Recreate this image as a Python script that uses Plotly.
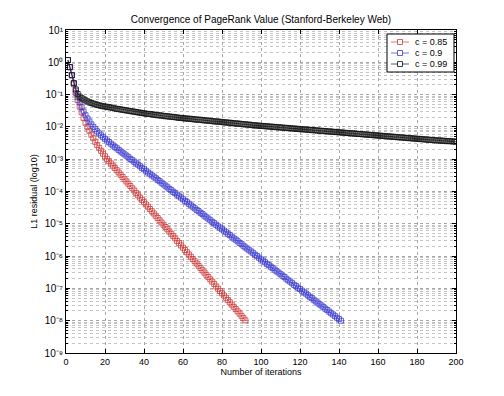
import plotly.graph_objects as go

# L1 residual values, stored as log10 (as on the axis label), one per iteration
red_log = [0.07, -0.15, -0.40, -0.68, -0.95, -1.17, -1.37, -1.55, -1.72, -1.87,
           -2.00, -2.12, -2.24, -2.35, -2.46, -2.56, -2.65, -2.74, -2.83, -2.91,
           -2.99, -3.06, -3.13, -3.20, -3.27, -3.34, -3.41, -3.48, -3.55, -3.62,
           -3.69, -3.76, -3.83, -3.90, -3.97, -4.05, -4.12, -4.19, -4.26, -4.33,
           -4.40, -4.47, -4.54, -4.61, -4.68, -4.75, -4.82, -4.89, -4.96, -5.03,
           -5.10, -5.17, -5.24, -5.31, -5.38, -5.45, -5.53, -5.60, -5.67, -5.74,
           -5.81, -5.88, -5.95, -6.02, -6.09, -6.16, -6.23, -6.30, -6.37, -6.44,
           -6.51, -6.58, -6.65, -6.72, -6.79, -6.86, -6.94, -7.01, -7.08, -7.15,
           -7.22, -7.29, -7.36, -7.43, -7.50, -7.57, -7.64, -7.71, -7.78, -7.85,
           -7.92, -7.99]

blue_log = [0.07, -0.15, -0.40, -0.65, -0.88, -1.07, -1.24, -1.39, -1.52, -1.64,
            -1.74, -1.83, -1.92, -2.00, -2.07, -2.14, -2.20, -2.26, -2.32, -2.37,
            -2.42, -2.47, -2.52, -2.57, -2.62, -2.66, -2.71, -2.76, -2.80, -2.85,
            -2.89, -2.94, -2.99, -3.03, -3.08, -3.13, -3.17, -3.22, -3.27, -3.31,
            -3.36, -3.41, -3.45, -3.50, -3.54, -3.59, -3.64, -3.68, -3.73, -3.78,
            -3.82, -3.87, -3.92, -3.96, -4.01, -4.05, -4.10, -4.15, -4.19, -4.24,
            -4.29, -4.33, -4.38, -4.43, -4.47, -4.52, -4.57, -4.61, -4.66, -4.70,
            -4.75, -4.80, -4.84, -4.89, -4.94, -4.98, -5.03, -5.08, -5.12, -5.17,
            -5.21, -5.26, -5.31, -5.35, -5.40, -5.45, -5.49, -5.54, -5.59, -5.63,
            -5.68, -5.73, -5.77, -5.82, -5.86, -5.91, -5.96, -6.00, -6.05, -6.10,
            -6.14, -6.19, -6.24, -6.28, -6.33, -6.37, -6.42, -6.47, -6.51, -6.56,
            -6.61, -6.65, -6.70, -6.75, -6.79, -6.84, -6.89, -6.93, -6.98, -7.02,
            -7.07, -7.12, -7.16, -7.21, -7.26, -7.30, -7.35, -7.40, -7.44, -7.49,
            -7.53, -7.58, -7.63, -7.67, -7.72, -7.77, -7.81, -7.86, -7.91, -7.95,
            -8.00]

black_log = [0.07, -0.15, -0.40, -0.64, -0.84, -0.98, -1.06, -1.11, -1.15, -1.18,
             -1.21, -1.24, -1.26, -1.28, -1.30, -1.32, -1.33, -1.35, -1.36, -1.37,
             -1.38, -1.39, -1.40, -1.41, -1.43, -1.44, -1.45, -1.46, -1.47, -1.48,
             -1.49, -1.50, -1.51, -1.52, -1.53, -1.54, -1.55, -1.56, -1.57, -1.58,
             -1.59, -1.60, -1.60, -1.61, -1.62, -1.63, -1.64, -1.64, -1.65, -1.66,
             -1.67, -1.67, -1.68, -1.69, -1.69, -1.70, -1.71, -1.72, -1.72, -1.73,
             -1.74, -1.74, -1.75, -1.75, -1.76, -1.77, -1.77, -1.78, -1.78, -1.79,
             -1.80, -1.80, -1.81, -1.81, -1.82, -1.83, -1.83, -1.84, -1.84, -1.85,
             -1.86, -1.86, -1.87, -1.87, -1.88, -1.89, -1.89, -1.90, -1.90, -1.91,
             -1.92, -1.92, -1.93, -1.93, -1.94, -1.95, -1.95, -1.96, -1.96, -1.97,
             -1.97, -1.98, -1.98, -1.99, -1.99, -2.00, -2.00, -2.01, -2.01, -2.02,
             -2.02, -2.03, -2.03, -2.04, -2.04, -2.05, -2.05, -2.06, -2.06, -2.07,
             -2.07, -2.08, -2.08, -2.09, -2.09, -2.10, -2.10, -2.11, -2.11, -2.12,
             -2.12, -2.13, -2.13, -2.14, -2.14, -2.15, -2.15, -2.16, -2.16, -2.17,
             -2.17, -2.18, -2.18, -2.19, -2.19, -2.20, -2.20, -2.21, -2.21, -2.22,
             -2.22, -2.23, -2.23, -2.24, -2.24, -2.25, -2.25, -2.26, -2.26, -2.27,
             -2.27, -2.28, -2.28, -2.29, -2.29, -2.30, -2.30, -2.31, -2.31, -2.32,
             -2.32, -2.33, -2.33, -2.34, -2.34, -2.35, -2.35, -2.36, -2.36, -2.37,
             -2.37, -2.38, -2.38, -2.39, -2.39, -2.40, -2.40, -2.41, -2.41, -2.42,
             -2.42, -2.42, -2.43, -2.43, -2.44, -2.44, -2.44, -2.45, -2.45, -2.46]

series_names = ["c = 0.85", "c = 0.9", "c = 0.99"]
series_data = [red_log, blue_log, black_log]
series_colors = ["#d03a3a", "#3a3ad0", "#111111"]

x_ticks = [0, 20, 40, 60, 80, 100, 120, 140, 160, 180, 200]
y_exponents = [-9, -8, -7, -6, -5, -4, -3, -2, -1, 0, 1]

FONT = "Liberation Sans, Arial, Helvetica, sans-serif"

# figure geometry (the page body adds an 8px offset)
W, H = 488, 380
ML, MR, MT, MB = 58, 40, 22, 35
PW, PH = W - ML - MR, H - MT - MB


def px(fx):
    return (fx - ML) / PW


def py(fy):
    return 1 - (fy - MT) / PH


SUP = str.maketrans("-0123456789", "⁻⁰¹²³⁴⁵⁶⁷⁸⁹")


def sup_label(e):
    return "10" + str(e).translate(SUP)


fig = go.Figure()
for name, vals, col in zip(series_names, series_data, series_colors):
    fig.add_trace(go.Scatter(
        x=list(range(1, len(vals) + 1)),
        y=[10 ** v for v in vals],
        mode="lines+markers",
        name=name,
        showlegend=False,
        line=dict(color=col, width=0.7),
        marker=dict(symbol="square-open", size=5, color=col,
                    line=dict(color=col, width=0.8)),
    ))

minor_vals = [m * 10 ** e for e in range(-9, 1) for m in range(2, 10)]

# hand-drawn legend box (MATLAB style, compact rows)
shapes = [dict(type="rect", xref="paper", yref="paper",
               x0=px(379), x1=px(446), y0=py(64), y1=py(26),
               line=dict(color="black", width=1), fillcolor="white", layer="above")]
annotations = []
row_y = [34, 45, 56]
for name, col, ry in zip(series_names, series_colors, row_y):
    shapes.append(dict(type="line", xref="paper", yref="paper",
                       x0=px(383), x1=px(401), y0=py(ry), y1=py(ry),
                       line=dict(color=col, width=0.7), layer="above"))
    shapes.append(dict(type="rect", xref="paper", yref="paper",
                       x0=px(389.5), x1=px(394.5), y0=py(ry + 2.5), y1=py(ry - 2.5),
                       line=dict(color=col, width=0.8), fillcolor="white", layer="above"))
    annotations.append(dict(text=name, xref="paper", yref="paper",
                            x=px(405), y=py(ry), xanchor="left", yanchor="middle",
                            showarrow=False, font=dict(size=9, family=FONT, color="black")))

fig.update_layout(
    width=W, height=H,
    margin=dict(l=ML, r=MR, t=MT, b=MB),
    paper_bgcolor="white", plot_bgcolor="white",
    font=dict(family=FONT, size=9, color="black"),
    title=dict(text="Convergence of PageRank Value (Stanford-Berkeley Web)",
               x=0.5, xref="paper", xanchor="center",
               y=1 - 11 / H, yanchor="middle",
               font=dict(size=10, family=FONT, color="black")),
    showlegend=False,
    shapes=shapes,
    annotations=annotations,
    xaxis=dict(
        range=[0, 200], tickmode="array", tickvals=x_ticks,
        ticks="inside", ticklen=4, tickcolor="black",
        showline=True, linecolor="black", linewidth=1, mirror="allticks",
        showgrid=True, gridcolor="#a8a8a8", griddash="dot", gridwidth=1,
        zeroline=False,
        title=dict(text="Number of iterations", standoff=2,
                   font=dict(size=9, family=FONT)),
        tickfont=dict(size=9, family=FONT),
    ),
    yaxis=dict(
        type="log", range=[-9, 1], tickmode="array",
        tickvals=[10 ** e for e in y_exponents],
        ticktext=[sup_label(e) for e in y_exponents],
        ticks="inside", ticklen=4, tickcolor="black",
        showline=True, linecolor="black", linewidth=1, mirror="allticks",
        showgrid=True, gridcolor="#a8a8a8", griddash="dot", gridwidth=1,
        zeroline=False,
        minor=dict(tickmode="array", tickvals=minor_vals, ticks="inside",
                   ticklen=2, tickcolor="black", showgrid=True,
                   gridcolor="#c4c4c4", griddash="dot", gridwidth=1),
        title=dict(text="L1 residual (log10)", standoff=5,
                   font=dict(size=9, family=FONT)),
        tickfont=dict(size=10, family=FONT),
    ),
)

fig.write_html("out.html")
